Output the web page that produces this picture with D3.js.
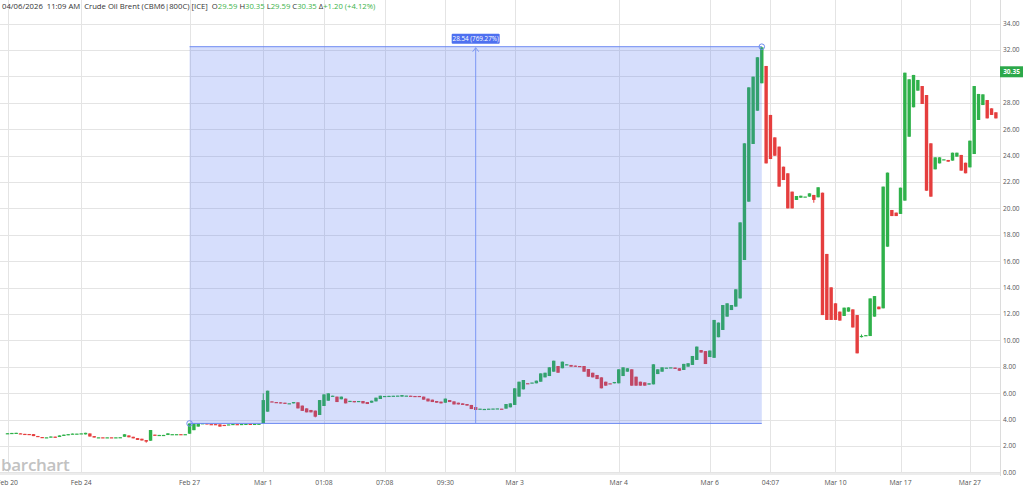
<!DOCTYPE html>
<html><head><meta charset="utf-8">
<script src="https://cdn.jsdelivr.net/npm/d3@7/dist/d3.min.js"></script>
<style>html,body{margin:0;padding:0;background:#fff;}svg{display:block;}</style>
</head><body><svg id="c" width="1024" height="488"></svg>
<script>
const openV = [2.93,2.95,2.96,2.96,2.92,2.91,2.90,2.76,2.68,2.65,2.65,2.71,2.68,2.76,2.82,2.88,2.93,2.94,2.88,2.95,
2.75,2.65,2.66,2.65,2.66,2.65,2.66,2.70,2.80,2.70,2.60,2.55,2.45,2.40,2.86,2.83,2.83,2.83,2.89,2.89,
2.90,2.89,2.93,3.20,3.47,3.72,3.72,3.66,3.66,3.64,3.60,3.63,3.64,3.66,3.66,3.67,3.68,3.67,3.68,3.71,
4.60,5.38,5.33,5.31,5.28,5.23,5.23,5.31,5.06,4.85,4.73,4.68,4.35,5.03,5.43,5.74,5.74,5.54,5.59,5.41,
5.41,5.40,5.41,5.33,5.28,5.38,5.56,5.74,5.79,5.80,5.81,5.74,5.81,5.81,5.79,5.79,5.74,5.59,5.51,5.41,
5.36,5.28,5.48,5.38,5.28,5.23,5.18,5.11,4.95,4.82,4.80,4.82,4.83,4.84,4.83,4.83,4.93,5.11,5.74,6.29,
6.76,6.80,6.75,6.87,7.20,7.30,7.63,8.06,7.89,8.14,8.14,8.09,8.06,8.06,7.83,7.55,7.38,7.20,6.87,6.75,
6.75,6.75,7.30,7.63,7.81,7.25,6.87,6.82,6.65,6.67,7.45,7.63,7.93,7.95,7.94,7.89,7.76,8.01,8.14,8.52,
9.27,9.19,8.74,8.68,10.24,10.79,11.80,12.30,12.56,13.18,16.09,20.51,24.88,27.40,29.48,30.79,27.08,25.38,24.68,23.16,
22.66,21.27,20.64,20.81,20.89,20.89,21.02,20.84,21.19,16.55,14.02,12.81,12.18,11.85,12.18,12.35,11.92,10.33,10.33,10.33,
11.80,12.56,12.43,17.10,19.88,19.68,19.58,20.59,25.43,27.66,28.92,29.27,28.59,24.93,22.96,23.41,23.70,23.67,23.62,23.92,
24.05,23.46,23.11,24.12,26.70,27.83,28.21,27.58,27.28];
const closeV = [2.97,2.99,3.00,2.92,2.90,2.90,2.75,2.68,2.64,2.66,2.72,2.63,2.80,2.86,2.90,2.94,2.94,2.96,3.00,2.72,
2.64,2.66,2.65,2.66,2.65,2.66,2.67,2.89,2.66,2.58,2.46,2.42,2.33,3.21,2.78,2.84,2.84,2.96,2.90,2.90,
2.89,2.90,3.71,3.72,3.73,3.73,3.64,3.65,3.62,3.47,3.52,3.64,3.67,3.62,3.67,3.68,3.67,3.68,3.69,5.48,
6.19,5.34,5.31,5.23,5.22,5.24,5.33,4.85,4.66,4.55,4.55,4.22,5.48,5.91,5.99,5.81,5.33,5.74,5.23,5.42,
5.31,5.41,5.23,5.18,5.43,5.66,5.81,5.79,5.80,5.81,5.82,5.86,5.82,5.79,5.77,5.76,5.51,5.38,5.33,5.28,
5.23,5.59,5.33,5.15,5.15,5.11,5.06,4.80,4.73,4.83,4.81,4.83,4.84,4.85,4.82,5.18,5.23,6.37,6.87,7.00,
6.75,6.81,6.95,7.50,7.55,7.96,8.46,7.55,8.39,8.19,8.01,8.01,8.05,7.63,7.25,7.20,7.07,6.37,6.57,6.74,
6.85,7.81,7.96,7.89,6.57,6.57,6.57,6.57,6.75,8.19,7.81,7.96,7.94,7.96,7.84,7.70,8.22,8.27,8.82,9.53,
9.08,8.21,9.23,11.55,11.35,12.68,12.81,12.68,13.87,18.94,24.93,29.17,29.98,31.45,32.20,23.41,23.74,23.99,21.65,22.15,
20.00,20.00,20.94,20.96,20.90,21.14,20.64,21.60,11.92,11.55,11.55,11.55,11.50,12.48,12.50,10.98,9.02,10.34,10.40,13.18,
13.36,12.36,21.65,22.71,19.42,19.42,21.57,30.28,29.78,30.11,29.73,27.91,21.34,20.89,23.87,23.87,23.72,23.54,24.22,24.22,
22.86,22.66,25.13,29.27,28.67,28.64,26.82,27.08,26.82];
// wick extremes where they extend beyond the body (index: value)
const highExtra = {59: 5.99, 174: 32.25, 197: 10.45};
const lowExtra = {32: 2.25, 71: 4.17, 186: 20.43, 197: 10.22};

const yTicks = [0,2,4,6,8,10,12,14,16,18,20,22,24,26,28,30,32,34];
const xTickIndex = [0,17,42,59,73,87,101,117,141,162,176,191,206,222];
const xTickLabels = ["Feb 20","Feb 24","Feb 27","Mar 1","01:08","07:08","09:30","Mar 3","Mar 4","Mar 6","04:07","Mar 10","Mar 17","Mar 27"];

const lastPrice = 30.35;
const measureStart = {i: 42, v: 3.71};
const measureEnd = {i: 174, v: 32.25};
const measureLabel = "28.54 (769.27%)";
const header = [["04/06/2026  11:09 AM  Crude Oil Brent (CBM6|800C) [ICE]  O","#333"],["29.59","#3cb34a"],[" H","#333"],["30.35","#3cb34a"],[" L","#333"],["29.59","#3cb34a"],[" C","#333"],["30.35","#3cb34a"],[" Δ","#333"],["+1.20 (+4.12%)","#3cb34a"]];

const data = openV.map((o,i)=>{
  const c = closeV[i];
  return {i, o, c, h: highExtra[i] !== undefined ? highExtra[i] : Math.max(o,c), l: lowExtra[i] !== undefined ? lowExtra[i] : Math.min(o,c)};
});

const svg = d3.select("#c");
const FONT = "'Open Sans', 'DejaVu Sans', sans-serif";
const plotRight = 1000, plotBottom = 472.4;
const x = d3.scaleLinear().domain([0, 228]).range([7.5, 7.5 + 228*4.335]);
const y = d3.scaleLinear().domain([0, 34]).range([472.4, 23.6]);

const GREEN = "#2fb14a", RED = "#e53e3e";

// grid
const g = svg.append("g");
g.selectAll("line.h").data(yTicks).join("line")
  .attr("x1", 0).attr("x2", plotRight)
  .attr("y1", d=>Math.round(y(d))+0.5).attr("y2", d=>Math.round(y(d))+0.5)
  .attr("stroke", "#e4e4e4").attr("stroke-width", 1);
g.selectAll("line.v").data(xTickIndex).join("line")
  .attr("x1", d=>Math.round(x(d))+0.5).attr("x2", d=>Math.round(x(d))+0.5)
  .attr("y1", 0).attr("y2", plotBottom)
  .attr("stroke", "#e4e4e4").attr("stroke-width", 1);
svg.append("line").attr("x1", plotRight+0.5).attr("x2", plotRight+0.5).attr("y1",0).attr("y2",476).attr("stroke","#dcdcdc");
svg.append("line").attr("x1", 0).attr("x2", plotRight).attr("y1",474).attr("y2",474).attr("stroke","#ececec").attr("stroke-width",2);

// watermark
svg.append("text").attr("x", 1).attr("y", 471).text("barchart")
  .attr("font-family", FONT).attr("font-size", 17).attr("font-weight", 600)
  .attr("fill", "#c2c2c2").attr("letter-spacing", -0.3);

// candles
const cg = svg.append("g");
cg.selectAll("line.w").data(data).join("line")
  .attr("x1", d=>x(d.i)).attr("x2", d=>x(d.i))
  .attr("y1", d=>y(d.h)).attr("y2", d=>y(d.l))
  .attr("stroke", d=> d.c>=d.o ? GREEN : RED).attr("stroke-width", 1);
cg.selectAll("rect").data(data).join("rect")
  .attr("x", d=>x(d.i)-1.7).attr("width", 3.4)
  .attr("y", d=>Math.min(y(d.o), y(d.c)))
  .attr("height", d=>Math.max(1.2, Math.abs(y(d.o)-y(d.c))))
  .attr("fill", d=> d.c>=d.o ? GREEN : RED);

// measurement overlay
const mx1 = x(measureStart.i), mx2 = x(measureEnd.i);
const my1 = y(measureEnd.v), my2 = y(measureStart.v);
const BLUE = "#6f8cf2";
svg.append("rect").attr("x", mx1).attr("y", my1).attr("width", mx2-mx1).attr("height", my2-my1)
  .attr("fill", "rgb(70,105,240)").attr("fill-opacity", 0.22);
svg.append("line").attr("x1", mx1).attr("x2", mx2).attr("y1", my1).attr("y2", my1).attr("stroke", BLUE).attr("stroke-width",1);
svg.append("line").attr("x1", mx1).attr("x2", mx2).attr("y1", my2).attr("y2", my2).attr("stroke", BLUE).attr("stroke-width",1);
const mxc = (mx1+mx2)/2;
svg.append("line").attr("x1", mxc).attr("x2", mxc).attr("y1", my2).attr("y2", my1+1).attr("stroke", "#7d98f4").attr("stroke-width",1);
svg.append("path").attr("d", `M${mxc-3},${my1+5} L${mxc},${my1+1} L${mxc+3},${my1+5}`).attr("fill","none").attr("stroke", "#7d98f4").attr("stroke-width",1);
[[mx1,my2],[mx2,my1]].forEach(p=>{
  svg.append("circle").attr("cx", p[0]).attr("cy", p[1]).attr("r", 2.8).attr("fill","none").attr("stroke", BLUE).attr("stroke-width",1);
});
const lbl = svg.append("g");
lbl.append("rect").attr("x", mxc-24).attr("y", my1-13).attr("width", 48).attr("height", 10).attr("fill", "#4e70f0").attr("rx",1);
lbl.append("text").attr("x", mxc).attr("y", my1-5.5).attr("text-anchor","middle").text(measureLabel)
  .attr("font-family", FONT).attr("font-size", 6.3).attr("fill", "#fff");

// y axis labels (the one hidden under the last-price badge is skipped)
svg.selectAll("text.yl").data(yTicks.filter(t=>Math.abs(y(t)-y(lastPrice))>8)).join("text")
  .attr("x", 1003).attr("y", d=>y(d)+2.3).text(d=>d.toFixed(2))
  .attr("font-family", FONT).attr("font-size", 6.5).attr("fill", "#555");
// last price badge
svg.append("rect").attr("x", 1000).attr("y", y(lastPrice)-5.5).attr("width", 23).attr("height", 11).attr("fill", "#2ca84a");
svg.append("text").attr("x", 1011.5).attr("y", y(lastPrice)+2.3).attr("text-anchor","middle").text(lastPrice.toFixed(2))
  .attr("font-family", FONT).attr("font-size", 6.5).attr("font-weight", 700).attr("fill", "#fff");

// x axis labels
svg.selectAll("text.xl").data(xTickIndex).join("text")
  .attr("x", d=>x(d)).attr("y", 485).attr("text-anchor","middle").text((d,k)=>xTickLabels[k])
  .attr("font-family", FONT).attr("font-size", 6.8).attr("fill", "#555");

// header
const ht = svg.append("text").attr("x", 2).attr("y", 8.5).attr("font-family", FONT).attr("font-size", 7.7).attr("xml:space","preserve");
header.forEach(h=>ht.append("tspan").text(h[0]).attr("fill", h[1]));
</script></body></html>
